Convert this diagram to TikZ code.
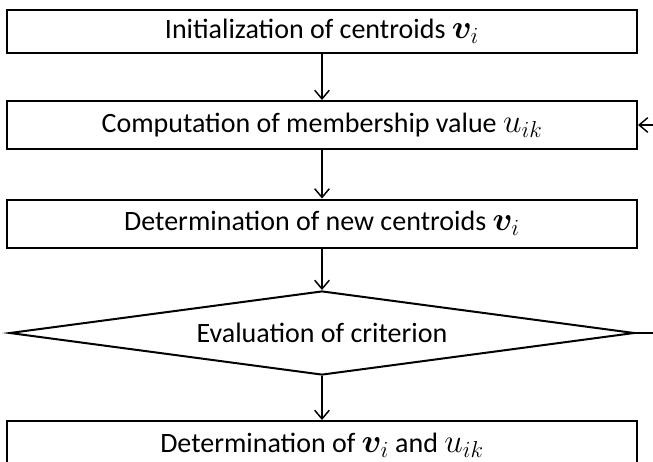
\documentclass[tikz,border=0pt]{standalone}
\usepackage{fontspec}
\setmainfont{Carlito}
\usepackage{amsmath,bm}
\DeclareMathSizes{21}{24}{18}{14}
\usetikzlibrary{shapes.geometric,arrows.meta}

\begin{document}
\begin{tikzpicture}[
	x=0.75pt,y=-0.75pt,
	stepbox/.style={draw,line width=1.5pt,minimum width=472.5pt,minimum height=36pt,inner sep=0pt,font=\fontsize{21}{25}\selectfont},
	decision/.style={diamond,draw,line width=1.5pt,aspect=7.44,minimum width=468.75pt,minimum height=63pt,inner sep=0pt,font=\fontsize{21}{25}\selectfont},
	flow/.style={line width=1.1pt,-{Straight Barb[length=6.5pt,width=11pt]}}
]
%\draw[help lines] (0,0) grid (653,461);
	\useasboundingbox (0,0) rectangle (653,461);
	\clip (0,0) rectangle (653,461);
	\node[stepbox,minimum height=32.25pt] (init) at (322,31.5) {Initialization of centroids $\bm{v}_i$};
	\node[stepbox] (comp) at (322,125) {Computation of membership value $u_{ik}$};
	\node[stepbox] (newc) at (322,223.5) {Determination of new centroids $\bm{v}_i$};
	\node[decision] (eval) at (322,333) {Evaluation of criterion};
	\node[stepbox] (final) at (322,445) {Determination of $\bm{v}_i$ and $u_{ik}$};

	\draw[flow] (init) -- (comp);
	\draw[flow] (comp) -- (newc);
	\draw[flow] (newc) -- (eval);
	\draw[flow] (eval) -- (final);
	\draw[flow] (eval.east) -- ++(40,0) |- (comp.east);
\end{tikzpicture}
\end{document}
